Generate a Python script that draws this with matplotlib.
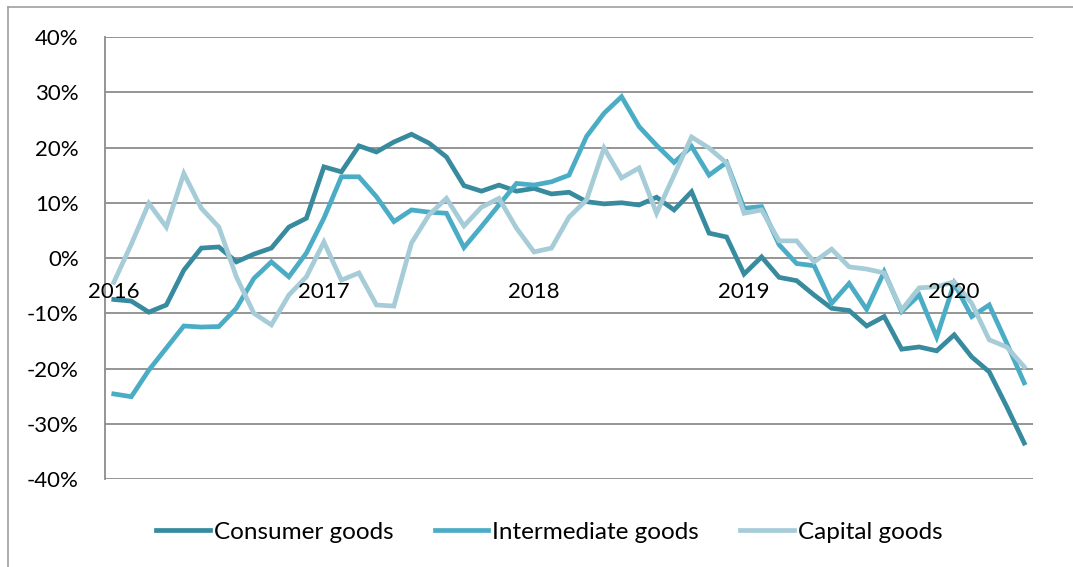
import matplotlib
matplotlib.use("Agg")
import matplotlib.pyplot as plt
from matplotlib.lines import Line2D
from matplotlib.ticker import FuncFormatter

plt.rcParams['font.family'] = ['Lato', 'DejaVu Sans']

# monthly, Jan 2016 - May 2020
years = ['2016', '2017', '2018', '2019', '2020']

consumer = [-7.5, -7.8, -9.8, -8.5, -2.2, 1.8, 2.0, -0.7, 0.7, 1.8, 5.6, 7.2,
            16.5, 15.6, 20.3, 19.2, 21.0, 22.4, 20.8, 18.3, 13.1, 12.1, 13.2, 12.1,
            12.6, 11.6, 11.9, 10.2, 9.8, 10.0, 9.6, 11.0, 8.7, 12.0, 4.5, 3.8,
            -2.9, 0.2, -3.5, -4.1, -6.7, -9.1, -9.5, -12.3, -10.6, -16.5, -16.1, -16.8,
            -13.9, -17.9, -20.6, -26.9, -33.5]

intermediate = [-24.6, -25.1, -20.3, -16.3, -12.3, -12.5, -12.4, -9.1, -3.7, -0.7, -3.4, 0.9,
                7.2, 14.7, 14.7, 11.1, 6.6, 8.7, 8.3, 8.1, 1.9, 5.7, 9.6, 13.5,
                13.2, 13.8, 15.0, 22.0, 26.2, 29.2, 23.8, 20.4, 17.3, 20.2, 15.0, 17.3,
                9.0, 9.3, 2.4, -1.0, -1.4, -8.2, -4.6, -9.3, -2.5, -9.7, -6.7, -14.3,
                -4.6, -10.6, -8.5, -15.4, -22.6]

capital = [-4.4, 2.5, 9.9, 5.6, 15.3, 9.0, 5.6, -3.4, -10.0, -12.1, -6.7, -3.4,
           2.9, -4.0, -2.7, -8.5, -8.7, 2.7, 7.8, 10.8, 5.8, 9.2, 10.8, 5.4,
           1.1, 1.8, 7.4, 10.5, 19.9, 14.5, 16.3, 8.1, 15.0, 21.9, 19.9, 17.2,
           8.1, 8.7, 3.1, 3.1, -0.7, 1.6, -1.6, -2.0, -2.7, -9.4, -5.4, -5.2,
           -4.3, -8.2, -14.8, -16.1, -19.7]

names = ['Consumer goods', 'Intermediate goods', 'Capital goods']
colors = ['#388B9F', '#4BACC6', '#A6CCD8']

fig = plt.figure(figsize=(10.73, 5.67), dpi=100)
ax = fig.add_axes([0.0979, 0.1552, 0.8648, 0.7795])

x = list(range(len(consumer)))
for ys, c, n in zip([consumer, intermediate, capital], colors, names):
    ax.plot(x, ys, color=c, lw=3.4, label=n, solid_joinstyle='miter', zorder=3)

ax.set_xlim(-0.5, len(consumer) - 0.5)
ax.set_ylim(-40, 40)
ax.set_yticks(range(-40, 41, 10))
ax.yaxis.set_major_formatter(FuncFormatter(lambda v, p: f"{v:.0f}%"))
ax.tick_params(axis='y', length=0, pad=19, labelsize=16)
ax.set_xticks([])
ax.grid(axis='y', color='#8C8C8C', lw=1.3, zorder=1)
for s in ['top', 'right', 'bottom']:
    ax.spines[s].set_visible(False)
ax.spines['left'].set_color('#8C8C8C')
ax.spines['left'].set_linewidth(1.3)

# year labels next to the zero line
for k, yr in enumerate(years):
    ax.annotate(yr, xy=(k * 12, 0), xytext=(0, -24.5), textcoords='offset points',
                ha='center', va='center', fontsize=16, zorder=4)

handles = [Line2D([], [], color=c, lw=3.4) for c in colors]
fig.legend(handles, names, loc='center', bbox_to_anchor=(0.512, 1 - 532 / 567),
           ncol=3, frameon=False, fontsize=17.5, handlelength=2.2,
           handletextpad=0.17, columnspacing=1.7)

# outer chart border (partly cut off)
fig.add_artist(Line2D([8 / 1073, 8 / 1073], [0, 1 - 7 / 567], color='#A0A0A0', lw=1.2,
                      transform=fig.transFigure))
fig.add_artist(Line2D([8 / 1073, 1], [1 - 7 / 567, 1 - 7 / 567], color='#A0A0A0', lw=1.2,
                      transform=fig.transFigure))

fig.savefig('out.png', dpi=100)
